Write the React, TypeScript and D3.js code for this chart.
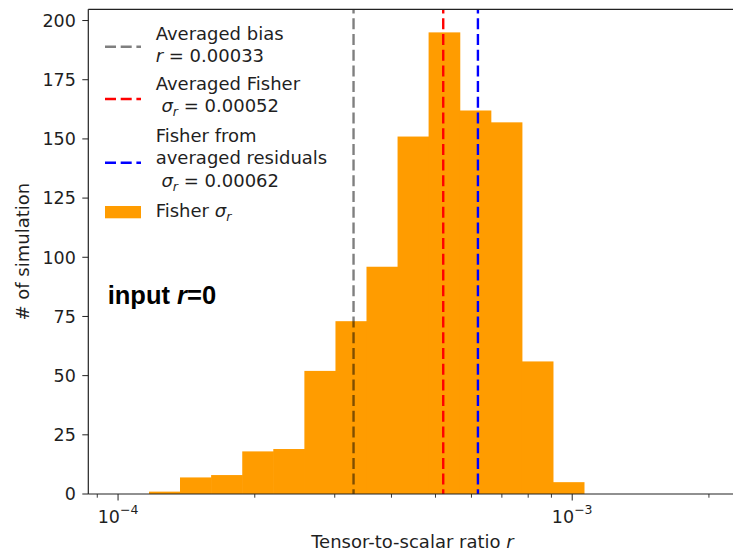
import React from 'react';
import * as d3 from 'd3';

// ---- data ----
const binEdges = [
  1.170e-4, 1.369e-4, 1.603e-4, 1.877e-4, 2.197e-4, 2.572e-4, 3.011e-4, 3.524e-4,
  4.125e-4, 4.828e-4, 5.652e-4, 6.616e-4, 7.745e-4, 9.066e-4, 1.061e-3,
];
const counts = [1, 7, 8, 18, 19, 52, 73, 96, 151, 195, 162, 157, 56, 5];
const yTickValues = [0, 25, 50, 75, 100, 125, 150, 175, 200];
const xMajorExponents = ['−4', '−3'];
const biasR = 0.00033;
const fisherSigma = 0.00052;
const residualSigma = 0.00062;
const vlineValues = [biasR, fisherSigma, residualSigma];
const vlineColors = ['rgba(0,0,0,0.5)', '#ff0000', '#0000ff'];
const histColor = '#ff9c00';
const xDomain = [8.6e-5, 2.3e-3];
const yDomain = [0, 204.75];

const W = 733;
const H = 553;
const FONT = '"DejaVu Sans", sans-serif';
const TXT = '#1f1f1f';

export default function App() {
  const left = 88.3, right = 736.5, top = 9.3, bottom = 494;
  const x = d3.scaleLog().domain(xDomain).range([left, right]);
  const y = d3.scaleLinear().domain(yDomain).range([bottom, top]);

  const allTicks = x.ticks();
  const isMajor = (v: number) => Math.abs(Math.log10(v) - Math.round(Math.log10(v))) < 1e-9;
  const majors = allTicks.filter(isMajor);
  const minors = allTicks.filter((v) => !isMajor(v));

  const dash = '11 4.7';
  const lw = 2.4;

  const sigma = (val: number) => (
    <>
      <tspan> </tspan>
      <tspan fontStyle="italic">σ</tspan>
      <tspan fontStyle="italic" fontSize={12.6} dy={4}>r</tspan>
      <tspan dy={-4}>{` = ${val.toFixed(5)}`}</tspan>
    </>
  );

  const legendX = 105, legendW = 36, textX = 155.7;

  return (
    <svg width={W} height={H} style={{ position: 'absolute', left: 0, top: 0, background: '#fff' }}
      fontFamily={FONT}>
      <defs>
        <clipPath id="ax">
          <rect x={left} y={top} width={right - left} height={bottom - top} />
        </clipPath>
      </defs>
      <rect x={0} y={0} width={W} height={H} fill="#fff" />

      {/* bars */}
      <g clipPath="url(#ax)">
        {counts.map((c, i) => (
          <rect key={i} x={x(binEdges[i])} y={y(c)} width={x(binEdges[i + 1]) - x(binEdges[i]) + 0.6}
            height={y(0) - y(c)} fill={histColor} />
        ))}
        {vlineValues.map((v, i) => (
          <line key={i} x1={x(v)} x2={x(v)} y1={top} y2={bottom} stroke={vlineColors[i]}
            strokeWidth={lw} strokeDasharray={dash} strokeDashoffset={6.7} />
        ))}
      </g>

      {/* spines */}
      <g stroke="#222" strokeWidth={1.2} fill="none">
        <line x1={left} x2={left} y1={top} y2={bottom} />
        <line x1={left} x2={right} y1={bottom} y2={bottom} />
        <line x1={left} x2={right} y1={top} y2={top} />
        <line x1={right} x2={right} y1={top} y2={bottom} />
      </g>

      {/* y ticks */}
      {yTickValues.map((v) => (
        <g key={v}>
          <line x1={left - 6} x2={left} y1={y(v)} y2={y(v)} stroke="#222" strokeWidth={1} />
          <text x={left - 12.5} y={y(v) + 6.3} textAnchor="end" fontSize={17.5} fill={TXT}>{v}</text>
        </g>
      ))}

      {/* x ticks */}
      {minors.map((v) => (
        <line key={v} x1={x(v)} x2={x(v)} y1={bottom} y2={bottom + 3.7} stroke="#222" strokeWidth={0.9} />
      ))}
      {majors.map((v, i) => (
        <g key={v}>
          <line x1={x(v)} x2={x(v)} y1={bottom} y2={bottom + 6.5} stroke="#222" strokeWidth={1} />
          <text x={x(v)} y={523} textAnchor="middle" fontSize={17.5} fill={TXT}>
            <tspan>10</tspan>
            <tspan fontSize={12.5} dy={-9}>{xMajorExponents[i]}</tspan>
          </text>
        </g>
      ))}

      {/* axis labels */}
      <text x={(left + right) / 2} y={547.7} textAnchor="middle" fontSize={18} fill={TXT}>
        Tensor-to-scalar ratio <tspan fontStyle="italic">r</tspan>
      </text>
      <text transform={`translate(28.5,${(top + bottom) / 2}) rotate(-90)`} textAnchor="middle"
        fontSize={18} fill={TXT}># of simulation</text>

      {/* legend */}
      <g fontSize={18} fill={TXT}>
        <line x1={legendX} x2={legendX + legendW} y1={46.7} y2={46.7} stroke={vlineColors[0]}
          strokeWidth={lw} strokeDasharray={dash} />
        <text x={textX} y={40}>Averaged bias</text>
        <text x={textX} y={62.3}><tspan fontStyle="italic">r</tspan>{` = ${biasR.toFixed(5)}`}</text>

        <line x1={legendX} x2={legendX + legendW} y1={99} y2={99} stroke={vlineColors[1]}
          strokeWidth={lw} strokeDasharray={dash} />
        <text x={textX} y={90}>Averaged Fisher</text>
        <text x={textX} y={111.7} xmlSpace="preserve">{sigma(fisherSigma)}</text>

        <line x1={legendX} x2={legendX + legendW} y1={162.7} y2={162.7} stroke={vlineColors[2]}
          strokeWidth={lw} strokeDasharray={dash} />
        <text x={textX} y={141.7}>Fisher from</text>
        <text x={textX} y={164.2}>averaged residuals</text>
        <text x={textX} y={186.7} xmlSpace="preserve">{sigma(residualSigma)}</text>

        <rect x={legendX} y={206} width={legendW} height={12.3} fill={histColor} />
        <text x={textX} y={216.7}>Fisher <tspan fontStyle="italic">σ</tspan>
          <tspan fontStyle="italic" fontSize={12.6} dy={4}>r</tspan></text>
      </g>

      {/* annotation */}
      <text x={107.7} y={304} fontFamily='"Liberation Sans", Arial, sans-serif' fontWeight="bold"
        fontSize={25.5} fill="#000">
        input <tspan fontStyle="italic">r</tspan>=0
      </text>
    </svg>
  );
}
